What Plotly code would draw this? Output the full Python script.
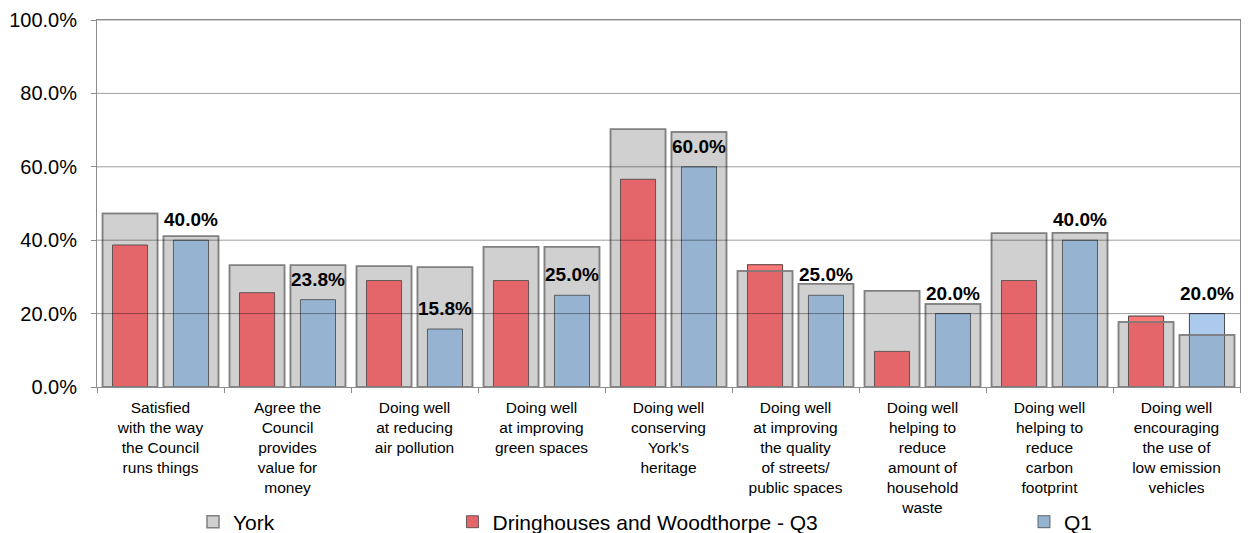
import plotly.graph_objects as go

# Survey questions (x-axis categories)
categories = [
    "Satisfied<br>with the way<br>the Council<br>runs things",
    "Agree the<br>Council<br>provides<br>value for<br>money",
    "Doing well<br>at reducing<br>air pollution",
    "Doing well<br>at improving<br>green spaces",
    "Doing well<br>conserving<br>York's<br>heritage",
    "Doing well<br>at improving<br>the quality<br>of streets/<br>public spaces",
    "Doing well<br>helping to<br>reduce<br>amount of<br>household<br>waste",
    "Doing well<br>helping to<br>reduce<br>carbon<br>footprint",
    "Doing well<br>encouraging<br>the use of<br>low emission<br>vehicles",
]

# York-wide results (percent) for each quarter
york_q3 = [47.3, 33.2, 32.9, 38.2, 70.2, 31.6, 26.2, 41.9, 17.7]
york_q1 = [41.1, 33.2, 32.6, 38.2, 69.5, 28.1, 22.6, 42.0, 14.2]

# Ward results (percent)
ward_q3 = [38.7, 25.7, 29.0, 29.0, 56.6, 33.3, 9.7, 29.0, 19.3]
ward_q1 = [40.0, 23.8, 15.8, 25.0, 60.0, 25.0, 20.0, 40.0, 20.0]

y_ticks = [0, 20, 40, 60, 80, 100]
y_tick_labels = ["0.0%", "20.0%", "40.0%", "60.0%", "80.0%", "100.0%"]

FONT = "Arial, Liberation Sans, sans-serif"
GRAY_FILL = "rgb(208,208,208)"
GRAY_EDGE = "rgb(128,128,128)"
RED = "rgb(229,102,106)"
RED_LIGHT = "rgb(255,118,118)"
BLUE = "rgb(150,180,210)"
BLUE_LIGHT = "rgb(172,202,236)"
BAR_EDGE = "rgba(60,60,60,0.75)"

W, H = 1250, 533
M_L, M_R, M_T, M_B = 97, 10, 20, 146
CAT_PX = (W - M_L - M_R) / len(categories)

SHIFT = 0.24
WIDE = 0.433
NARROW = 0.276

fig = go.Figure()

# York bars (wide, grey) behind the ward bars
fig.add_trace(go.Bar(
    x=categories, y=york_q3, name="York", legend="legend",
    width=WIDE, offset=-SHIFT - WIDE / 2,
    marker=dict(color=GRAY_FILL, line=dict(color=GRAY_EDGE, width=1.5)),
))
fig.add_trace(go.Bar(
    x=categories, y=york_q1, name="York", showlegend=False,
    width=WIDE, offset=SHIFT - WIDE / 2,
    marker=dict(color=GRAY_FILL, line=dict(color=GRAY_EDGE, width=1.5)),
))

# Ward bars (narrow)
fig.add_trace(go.Bar(
    x=categories, y=ward_q3, name="Dringhouses and Woodthorpe - Q3", legend="legend2",
    width=NARROW, offset=-SHIFT - NARROW / 2,
    marker=dict(color=RED, line=dict(color=BAR_EDGE, width=1)),
))
fig.add_trace(go.Bar(
    x=categories, y=ward_q1, name="Q1", legend="legend3",
    width=NARROW, offset=SHIFT - NARROW / 2,
    marker=dict(color=BLUE, line=dict(color=BAR_EDGE, width=1)),
))

# Portion of a ward bar rising above the York bar is shown lighter
def excess(ward, york):
    return [w - y if w > y else None for w, y in zip(ward, york)]

fig.add_trace(go.Bar(
    x=categories, y=excess(ward_q3, york_q3), base=york_q3, showlegend=False,
    width=NARROW, offset=-SHIFT - NARROW / 2,
    marker=dict(color=RED_LIGHT, line=dict(color=BAR_EDGE, width=1)),
))
fig.add_trace(go.Bar(
    x=categories, y=excess(ward_q1, york_q1), base=york_q1, showlegend=False,
    width=NARROW, offset=SHIFT - NARROW / 2,
    marker=dict(color=BLUE_LIGHT, line=dict(color=BAR_EDGE, width=1)),
))

# York bar outlines drawn over everything
for vals, sgn in ((york_q3, -1), (york_q1, 1)):
    fig.add_trace(go.Bar(
        x=categories, y=vals, showlegend=False,
        width=WIDE, offset=sgn * SHIFT - WIDE / 2,
        marker=dict(color="rgba(0,0,0,0)", line=dict(color=GRAY_EDGE, width=1.5)),
    ))

# Horizontal gridlines on top of the bars
for v in y_ticks[1:]:
    fig.add_shape(type="line", xref="paper", yref="y", x0=0, x1=1, y0=v, y1=v,
                  line=dict(color="rgba(0,0,0,0.38)", width=1), layer="above")

# Value labels above the Q1 bars
for cat, v in zip(categories, ward_q1):
    fig.add_annotation(
        x=cat, y=v, text=f"<b>{v:.1f}%</b>", showarrow=False,
        xanchor="center", yanchor="bottom",
        xshift=SHIFT * CAT_PX, yshift=8,
        font=dict(family=FONT, size=19, color="black"),
    )

legend_common = dict(orientation="h", yanchor="middle", y=-0.368, xanchor="left",
                     font=dict(family=FONT, size=21, color="black"),
                     bgcolor="rgba(0,0,0,0)", borderwidth=0)

fig.update_layout(
    width=W, height=H,
    margin=dict(l=M_L, r=M_R, t=M_T, b=M_B, autoexpand=False),
    paper_bgcolor="white", plot_bgcolor="white",
    barmode="overlay",
    font=dict(family=FONT, color="black"),
    showlegend=True,
    legend=dict(x=0.084, **legend_common),
    legend2=dict(x=0.311, **legend_common),
    legend3=dict(x=0.811, **legend_common),
    xaxis=dict(
        showline=True, linecolor="rgb(140,140,140)", linewidth=1, mirror=True,
        ticks="outside", tickson="boundaries", ticklen=5, tickcolor="rgb(140,140,140)",
        tickfont=dict(family=FONT, size=15.5, color="black"),
        ticklabelstandoff=6, automargin=False,
        showgrid=False, fixedrange=True,
    ),
    yaxis=dict(
        range=[0, 100], tickvals=y_ticks, ticktext=y_tick_labels,
        showline=True, linecolor="rgb(140,140,140)", linewidth=1, mirror=True,
        ticks="outside", ticklen=5, tickcolor="rgb(140,140,140)",
        tickfont=dict(family=FONT, size=20, color="black"),
        ticklabelstandoff=10, automargin=False,
        showgrid=False, zeroline=False, fixedrange=True,
    ),
)

fig.write_html("out.html")
